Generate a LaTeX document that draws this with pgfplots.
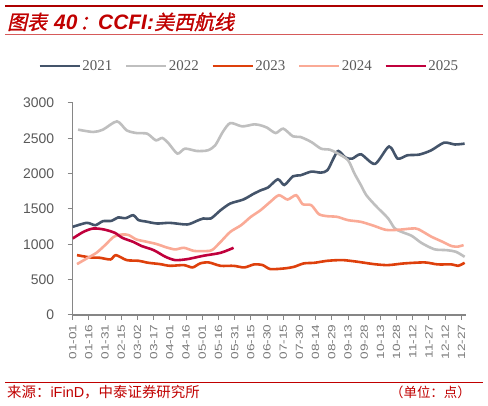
\documentclass[border=0pt]{standalone}
\usepackage{pgfplots}
\pgfplotsset{compat=1.18}
\usepackage{fontspec}
\setmainfont{Liberation Sans}
\newfontfamily\cjk{Noto Sans CJK SC}
\newfontfamily\cjkit[FakeSlant=0.22,FakeBold=1.2]{Noto Sans CJK SC}
\newfontfamily\legfont{Liberation Serif}
\definecolor{c2021}{RGB}{68,84,106}
\definecolor{c2022}{RGB}{191,191,191}
\definecolor{c2023}{RGB}{222,64,12}
\definecolor{c2024}{RGB}{250,170,150}
\definecolor{c2025}{RGB}{192,0,60}
\definecolor{titlered}{RGB}{192,0,0}
\definecolor{linered}{RGB}{214,90,90}
\definecolor{axisgray}{RGB}{134,134,134}
\definecolor{labgray}{RGB}{89,89,89}
\definecolor{xlabgray}{RGB}{120,120,120}
\begin{document}
\begin{tikzpicture}
\path (0bp,0bp) rectangle (488bp,406bp);
\draw[titlered!90!black, line width=2.6bp] (5bp,400bp) -- (483bp,400bp);
\draw[linered, line width=1.8bp] (5bp,371.5bp) -- (483bp,371.5bp);
\draw[titlered, line width=0.9bp] (5bp,24bp) -- (483bp,24bp);
\begin{scope}[every node/.style={anchor=base west, inner sep=0pt, text=titlered, font=\fontsize{20}{20}\selectfont}]
\node at (7bp,376.5bp) {\cjkit 图表};
\node at (54bp,376.5bp) {\fontsize{21}{21}\selectfont\bfseries\itshape 40};
\node at (79bp,376.5bp) {\cjkit ：};
\node at (98bp,376.5bp) {\fontsize{21}{21}\selectfont\bfseries\itshape CCFI:};
\node at (154bp,376.5bp) {\cjkit 美西航线};
\end{scope}
\node[anchor=base west, inner sep=0pt, text=titlered] at (7bp,9bp)
 {\fontsize{14.5}{14.5}\selectfont{\cjk 来源：}iFinD{\cjk ，中泰证券研究所}};
\node[anchor=base east, inner sep=0pt, text=titlered] at (471bp,9bp)
 {\fontsize{13.5}{13.5}\selectfont{\cjk （单位：点）}};
\begin{axis}[
 at={(72.7bp,91bp)}, anchor=south west,
 scale only axis, width=393bp, height=212bp,
 xmin=0, xmax=364, ymin=0, ymax=3000,
 axis x line*=bottom, axis y line*=left,
 axis line style={draw=axisgray, line width=1.3bp, -},
 ytick={0,500,...,3000},
 xtick={0,15,...,360},
 xticklabels={01-01,01-16,01-31,02-15,03-02,03-17,04-01,04-16,05-01,05-16,05-31,06-15,06-30,07-15,07-30,08-14,08-29,09-13,09-28,10-13,10-28,11-12,11-27,12-12,12-27},
 tick align=outside, major tick length=5bp,
 tick style={draw=axisgray, line width=1bp},
 yticklabel style={font=\fontsize{14}{14}\selectfont, text=labgray, xshift=-10bp},
 xticklabel style={font=\fontsize{10.5}{10.5}\selectfont, text=xlabgray, rotate=90, anchor=east, xscale=1.3},
 /pgf/number format/assume math mode=true,
 /pgf/number format/1000 sep={},
 legend columns=5,
 legend style={draw=none, fill=none, at={(0.4486,1.1745)}, anchor=center,
   font=\legfont\fontsize{15}{15}\selectfont, text=labgray,
   nodes={inner sep=1.5bp},
   /tikz/every even column/.append style={column sep=11bp}},
 legend image code/.code={\draw[#1] (0bp,0bp) -- (40bp,0bp);},
 every axis plot/.append style={line width=2.6bp, smooth, tension=0.45},
]
\addplot[c2021] coordinates {(0,1247)(13,1304)(21,1271)(28,1328)(36,1332)(42,1380)(49,1370)(56,1412)(61,1342)(67,1325)(78,1295)(90,1304)(106,1281)(115,1332)(121,1366)(128,1366)(137,1483)(146,1578)(158,1634)(168,1719)(175,1770)(181,1805)(190,1921)(196,1840)(204,1963)(211,1977)(221,2029)(230,2015)(236,2050)(242,2230)(246,2321)(253,2225)(259,2213)(267,2274)(280,2138)(293,2385)(301,2213)(310,2260)(321,2270)(332,2330)(344,2439)(354,2413)(363,2425)};
\addlegendentry{2021}
\addplot[c2022] coordinates {(5,2623)(19,2590)(28,2623)(41,2740)(50,2613)(59,2575)(69,2566)(77,2472)(83,2505)(89,2425)(97,2284)(104,2354)(115,2321)(125,2330)(132,2401)(139,2590)(146,2716)(157,2669)(168,2698)(174,2684)(180,2651)(188,2575)(195,2637)(204,2528)(211,2519)(221,2448)(230,2354)(238,2340)(245,2290)(255,2190)(261,2001)(267,1836)(272,1695)(281,1540)(292,1370)(298,1230)(304,1180)(314,1120)(323,1020)(335,930)(346,918)(355,894)(363,823)};
\addlegendentry{2022}
\addplot[c2023] coordinates {(4,847)(16,815)(25,810)(35,786)(40,847)(50,777)(61,767)(70,739)(81,720)(90,696)(103,706)(111,673)(118,730)(126,744)(137,696)(149,696)(159,673)(168,716)(176,706)(183,650)(196,659)(205,682)(214,730)(224,739)(236,767)(250,777)(264,753)(279,720)(292,706)(307,730)(326,744)(338,716)(351,716)(357,696)(363,739)};
\addlegendentry{2023}
\addplot[c2024] coordinates {(4,720)(13,800)(22,880)(30,989)(38,1106)(46,1140)(52,1130)(59,1069)(69,1035)(78,1003)(87,956)(95,928)(103,951)(112,908)(121,904)(129,918)(137,1035)(146,1177)(156,1271)(165,1389)(174,1483)(183,1601)(191,1695)(199,1634)(207,1695)(213,1568)(221,1554)(228,1427)(236,1398)(245,1389)(255,1342)(267,1318)(279,1262)(290,1205)(301,1205)(314,1224)(320,1215)(332,1110)(342,1040)(351,975)(357,968)(362,989)};
\addlegendentry{2024}
\addplot[c2025] coordinates {(0,1083)(10,1177)(19,1224)(29,1210)(39,1163)(46,1092)(56,1035)(64,975)(75,918)(86,823)(95,777)(106,790)(121,838)(137,880)(149,951)};
\addlegendentry{2025}
\end{axis}
\end{tikzpicture}
\end{document}
